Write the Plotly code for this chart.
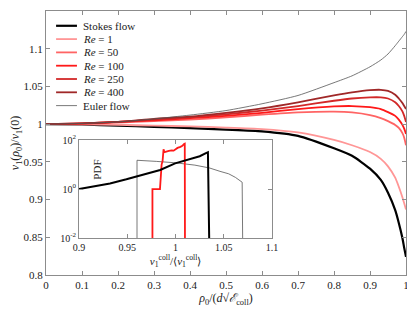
import plotly.graph_objects as go

# ---------------- main panel data ----------------
rho = [0.0, 0.1, 0.2, 0.3, 0.4, 0.5, 0.6, 0.7, 0.8, 0.85, 0.9, 0.93, 0.95, 0.97, 0.98, 0.99, 0.995, 1.0]

stokes = [1.0, 0.9995, 0.998, 0.9965, 0.9948, 0.9928, 0.9905, 0.9845, 0.968, 0.958, 0.941, 0.926, 0.909, 0.886, 0.869, 0.849, 0.836, 0.824]
re1    = [1.0, 0.9998, 0.999, 0.998, 0.997, 0.9955, 0.9935, 0.989, 0.979, 0.972, 0.963, 0.954, 0.944, 0.929, 0.917, 0.903, 0.895, 0.887]
re50   = [1.0, 1.0005, 1.002, 1.004, 1.006, 1.009, 1.0125, 1.0155, 1.0165, 1.0155, 1.012, 1.008, 1.004, 0.999, 0.995, 0.988, 0.982, 0.972]
re100  = [1.0, 1.0008, 1.003, 1.005, 1.008, 1.011, 1.015, 1.020, 1.0235, 1.024, 1.0225, 1.020, 1.016, 1.011, 1.006, 0.999, 0.994, 0.987]
re250  = [1.0, 1.001, 1.003, 1.006, 1.009, 1.013, 1.018, 1.024, 1.031, 1.034, 1.0355, 1.0355, 1.034, 1.029, 1.024, 1.017, 1.011, 1.003]
re400  = [1.0, 1.001, 1.003, 1.007, 1.010, 1.015, 1.021, 1.029, 1.038, 1.042, 1.045, 1.0455, 1.044, 1.039, 1.034, 1.028, 1.024, 1.020]
euler  = [1.0, 1.001, 1.003, 1.007, 1.012, 1.018, 1.027, 1.038, 1.055, 1.064, 1.076, 1.085, 1.093, 1.104, 1.110, 1.116, 1.119, 1.123]

series_names = ["Stokes flow", "<i>Re</i> = 1", "<i>Re</i> = 50", "<i>Re</i> = 100",
                "<i>Re</i> = 250", "<i>Re</i> = 400", "Euler flow"]

x_ticks = [0, 0.1, 0.2, 0.3, 0.4, 0.5, 0.6, 0.7, 0.8, 0.9, 1]
x_ticklabels = ["0", "0.1", "0.2", "0.3", "0.4", "0.5", "0.6", "0.7", "0.8", "0.9", "1"]
y_ticks = [0.8, 0.85, 0.9, 0.95, 1.0, 1.05, 1.1, 1.15]
y_ticklabels = ["0.8", "0.85", "0.9", "0.95", "1", "1.05", "1.1", "1.15"]

# ---------------- inset data (PDF) ----------------
pdf_stokes_x = [0.9, 0.932, 0.949, 0.984, 0.9995, 1.018, 1.025, 1.032, 1.0335, 1.0348]
pdf_stokes_y = [1.0, 1.7, 2.5, 6.0, 11.2, 17.9, 22.0, 30.0, 32.0, 0.01]

pdf_re100_x = [0.976, 0.976, 0.9838, 0.9845, 0.9855, 0.9865, 0.9875, 0.9885, 0.990, 0.993, 0.996, 0.998, 1.000, 1.002, 1.005, 1.007, 1.0088, 1.0095, 1.0097]
pdf_re100_y = [0.01, 1.0, 1.0, 3.0, 10.0, 14.0, 42.0, 32.0, 34.0, 36.0, 38.0, 37.0, 42.0, 48.0, 53.0, 58.0, 70.0, 72.0, 0.01]

pdf_euler_x = [0.960, 0.960, 0.98, 1.0, 1.02, 1.035, 1.046, 1.055, 1.062, 1.067, 1.069, 1.0695]
pdf_euler_y = [0.01, 15.0, 13.5, 11.8, 9.5, 7.3, 5.3, 4.2, 3.0, 2.2, 1.9, 0.01]

inset_x_ticks = [0.9, 0.95, 1.0, 1.05, 1.1]
inset_x_ticklabels = ["0.9", "0.95", "1", "1.05", "1.1"]
inset_y_ticks = [0.01, 1, 100]
inset_y_ticklabels = ["10<sup>-2</sup>", "10<sup>0</sup>", "10<sup>2</sup>"]

# ---------------- styling ----------------
FONT = "Liberation Serif"
AXC = "#8c8c8c"
TXT = "#222222"

series_values = [stokes, re1, re50, re100, re250, re400, euler]
series_colors = ["black", "rgb(255,150,150)", "rgb(255,100,100)", "rgb(255,25,25)",
                 "rgb(210,40,40)", "rgb(160,40,40)", "#555555"]
series_widths = [2.2, 1.8, 1.8, 1.8, 1.8, 1.8, 0.8]

fig = go.Figure()
for name, vals, col, w in zip(series_names, series_values, series_colors, series_widths):
    fig.add_trace(go.Scatter(x=rho, y=vals, mode="lines", name=name, showlegend=False,
                             line=dict(color=col, width=w, shape="spline", smoothing=0.6),
                             xaxis="x", yaxis="y"))

fig.add_trace(go.Scatter(x=pdf_euler_x, y=pdf_euler_y, mode="lines", showlegend=False,
                         line=dict(color="#555555", width=0.8), xaxis="x2", yaxis="y2"))
fig.add_trace(go.Scatter(x=pdf_re100_x, y=pdf_re100_y, mode="lines", showlegend=False,
                         line=dict(color="rgb(255,25,25)", width=1.8), xaxis="x2", yaxis="y2"))
fig.add_trace(go.Scatter(x=pdf_stokes_x, y=pdf_stokes_y, mode="lines", showlegend=False,
                         line=dict(color="black", width=2), xaxis="x2", yaxis="y2"))

# compact legend (Plotly's native legend rows are taller than the reference's)
LEG_X0, LEG_X1, LEG_TX = 0.028, 0.086, 0.097
LEG_Y0, LEG_DY = 0.944, 0.0504
shapes, annotations = [], []
for i, (name, col, w) in enumerate(zip(series_names, series_colors, series_widths)):
    yy = LEG_Y0 - i * LEG_DY
    shapes.append(dict(type="line", xref="paper", yref="paper", x0=LEG_X0, x1=LEG_X1,
                       y0=yy, y1=yy, line=dict(color=col, width=w)))
    annotations.append(dict(text=name, xref="paper", yref="paper", x=LEG_TX, y=yy,
                            xanchor="left", yanchor="middle", showarrow=False,
                            font=dict(family=FONT, size=11, color=TXT)))

annotations.append(dict(text="PDF", xref="x2", yref="y2 domain", x=0.9187, y=0.70,
                        textangle=-90, showarrow=False, xanchor="center", yanchor="middle",
                        font=dict(family=FONT, size=11, color=TXT)))

axis_common = dict(showline=True, linecolor=AXC, linewidth=1, mirror="ticks",
                   ticks="inside", ticklen=4, tickcolor=AXC, showgrid=False, zeroline=False,
                   automargin=False,
                   tickfont=dict(family=FONT, size=11, color=TXT))
inset_axis = {**axis_common, "tickfont": dict(family=FONT, size=10, color=TXT)}

# the page has an 8px body margin, so the figure is sized to fill the window after that offset
fig.update_layout(
    width=407, height=304,
    margin=dict(l=38, r=9, t=3, b=37),
    paper_bgcolor="white", plot_bgcolor="white",
    font=dict(family=FONT, size=11, color=TXT),
    showlegend=False,
    xaxis=dict(range=[0, 1], tickvals=x_ticks, ticktext=x_ticklabels, domain=[0, 1],
               title=dict(text="<i>ρ</i><sub>0</sub>/(<i>d</i>√<i>ℰ</i><sub>coll</sub>)",
                          font=dict(family=FONT, size=12, color=TXT), standoff=2),
               **axis_common),
    yaxis=dict(range=[0.8, 1.15], tickvals=y_ticks, ticktext=y_ticklabels, domain=[0, 1],
               title=dict(text="<i>v</i><sub>1</sub>(<i>ρ</i><sub>0</sub>)/<i>v</i><sub>1</sub>(0)",
                          font=dict(family=FONT, size=12, color=TXT), standoff=3),
               **axis_common),
    xaxis2=dict(range=[0.9, 1.1], tickvals=inset_x_ticks, ticktext=inset_x_ticklabels,
                domain=[0.092, 0.628], anchor="y2",
                title=dict(text="<i>v</i><sub>1</sub><sup>coll</sup>/⟨<i>v</i><sub>1</sub><sup>coll</sup>⟩",
                           font=dict(family=FONT, size=11, color=TXT), standoff=2),
                **inset_axis),
    yaxis2=dict(type="log", range=[-2, 2], tickvals=inset_y_ticks, ticktext=inset_y_ticklabels,
                domain=[0.140, 0.511], anchor="x2",
                **inset_axis),
    shapes=shapes,
    annotations=annotations,
)

fig.write_html("out.html")
